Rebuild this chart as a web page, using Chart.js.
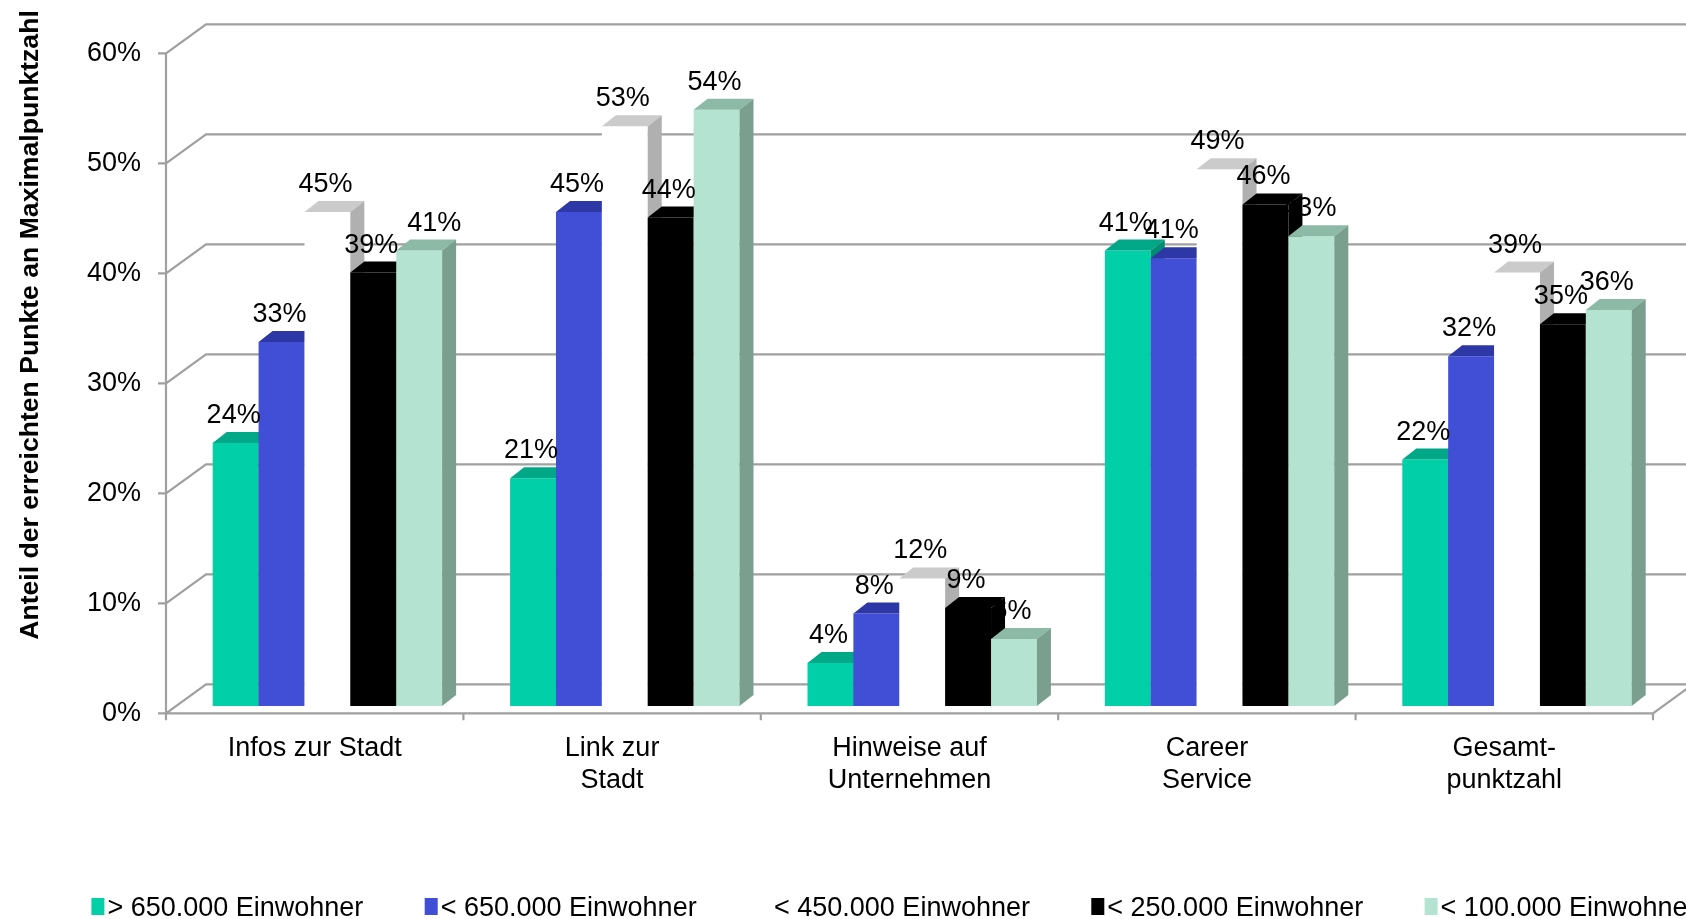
<!DOCTYPE html>
<html>
<head>
<meta charset="utf-8">
<script src="https://cdn.jsdelivr.net/npm/chart.js@4.4.1/dist/chart.umd.min.js"></script>
<style>
  html, body { margin: 0; padding: 0; background: #fff; }
</style>
</head>
<body>
<canvas id="chart" width="1686" height="919"></canvas>
<script>
const categories = [['Infos zur Stadt'], ['Link zur', 'Stadt'], ['Hinweise auf', 'Unternehmen'], ['Career', 'Service'], ['Gesamt-', 'punktzahl']];
const seriesNames = ['> 650.000 Einwohner', '< 650.000 Einwohner', '< 450.000 Einwohner', '< 250.000 Einwohner', '< 100.000 Einwohner'];
const over650k = [23.9, 20.7, 3.9, 41.4, 22.4];
const under650k = [33.1, 44.9, 8.4, 40.7, 31.8];
const under450k = [44.9, 52.7, 11.6, 48.8, 39.4];
const under250k = [39.4, 44.4, 8.9, 45.6, 34.7];
const under100k = [41.4, 54.2, 6.1, 42.7, 36.0];
const yTicks = [0, 10, 20, 30, 40, 50, 60];
const yTitle = 'Anteil der erreichten Punkte an Maximalpunktzahl';

// colours of the three visible faces of each series
const frontColors = ['#00cfa7', '#414fd7', '#ffffff', '#000000', '#b4e3d2'];
const topColors = ['#00a887', '#2e37a6', '#cbcbcb', '#000000', '#8db9a7'];
const sideColors = ['#008c70', '#262e8c', '#b0b0b0', '#000000', '#7b9f8f'];

const FONT = "'Liberation Sans', Arial, sans-serif";
const GRID = '#a0a0a0';
const WALL_DX = 40, WALL_DY = 29;   // depth of the floor / back wall
const BAR_DX = 12.7, BAR_DY = -7.3; // bars sit a bit behind the front plane
const TOP_DX = 14, TOP_DY = 11;     // depth of a single bar

function drawLabels(chart, i) {
    const ctx = chart.ctx;
    const meta = chart.getDatasetMeta(i);
    const data = chart.data.datasets[i].data;
    ctx.save();
    ctx.font = '27px ' + FONT;
    ctx.fillStyle = '#000';
    ctx.textAlign = 'center';
    ctx.textBaseline = 'alphabetic';
    meta.data.forEach((bar, j) => {
        const nudge = (i === 4 && j === 0) ? 17 : 0; // label moved by hand in the original
        ctx.fillText(Math.round(data[j]) + '%', bar.x + BAR_DX - 2 + nudge, bar.y + BAR_DY - 20);
    });
    ctx.restore();
}

function drawFaces(chart, i) {
    const ctx = chart.ctx;
    chart.getDatasetMeta(i).data.forEach(bar => {
        const { x, y, base, width } = bar.getProps(['x', 'y', 'base', 'width'], true);
        const x0 = x - width / 2, x1 = x + width / 2;
        ctx.fillStyle = topColors[i];
        ctx.beginPath();
        ctx.moveTo(x0, y);
        ctx.lineTo(x0 + TOP_DX, y - TOP_DY);
        ctx.lineTo(x1 + TOP_DX, y - TOP_DY);
        ctx.lineTo(x1, y);
        ctx.closePath();
        ctx.fill();
        ctx.fillStyle = sideColors[i];
        ctx.beginPath();
        ctx.moveTo(x1, y);
        ctx.lineTo(x1 + TOP_DX, y - TOP_DY);
        ctx.lineTo(x1 + TOP_DX, base - TOP_DY);
        ctx.lineTo(x1, base);
        ctx.closePath();
        ctx.fill();
    });
}

const bars3d = {
    id: 'bars3d',
    beforeDatasetsDraw(chart) {
        const ctx = chart.ctx;
        const { left, right, bottom, top } = chart.chartArea;
        const y = chart.scales.y;
        ctx.save();
        ctx.strokeStyle = GRID;
        ctx.lineWidth = 2.2;
        ctx.beginPath();
        yTicks.forEach(v => {
            const py = y.getPixelForValue(v);
            ctx.moveTo(left - 8, py);
            ctx.lineTo(left, py);
            ctx.lineTo(left + WALL_DX, py - WALL_DY);
            ctx.lineTo(chart.width + 5, py - WALL_DY);
        });
        // front axis and floor
        ctx.moveTo(left, top);
        ctx.lineTo(left, bottom + 7);
        ctx.moveTo(left, bottom);
        ctx.lineTo(right, bottom);
        ctx.lineTo(right + WALL_DX, bottom - WALL_DY);
        const step = (right - left) / categories.length;
        for (let k = 1; k <= categories.length; k++) {
            ctx.moveTo(left + k * step, bottom);
            ctx.lineTo(left + k * step, bottom + 7);
        }
        ctx.stroke();
        ctx.restore();
    },
    // the built-in pass draws the last series first; skip it and draw left to right
    beforeDatasetDraw() {
        return false;
    },
    afterDatasetsDraw(chart) {
        const ctx = chart.ctx;
        for (let i = 0; i < chart.data.datasets.length; i++) {
            if (i === 3) drawLabels(chart, 4);
            ctx.save();
            ctx.translate(BAR_DX, BAR_DY);
            chart.getDatasetMeta(i).controller.draw();
            drawFaces(chart, i);
            ctx.restore();
        }
    },
    afterDraw(chart) {
        const ctx = chart.ctx;
        for (let i = 0; i < 4; i++) drawLabels(chart, i);

        // legend
        ctx.save();
        ctx.font = '27px ' + FONT;
        ctx.textAlign = 'left';
        ctx.textBaseline = 'alphabetic';
        chart.data.datasets.forEach((ds, i) => {
            const bx = 91.4 + i * 333.3;
            ctx.fillStyle = ds.backgroundColor;
            ctx.fillRect(bx, 898, 13, 17);
            ctx.fillStyle = '#000';
            ctx.fillText(ds.label, bx + 16, 916);
        });
        ctx.restore();

        // y axis title
        ctx.save();
        ctx.translate(37.5, 325);
        ctx.rotate(-Math.PI / 2);
        ctx.font = 'bold 26.6px ' + FONT;
        ctx.fillStyle = '#000';
        ctx.textAlign = 'center';
        ctx.textBaseline = 'alphabetic';
        ctx.fillText(yTitle, 0, 0);
        ctx.restore();
    }
};

const seriesData = [over650k, under650k, under450k, under250k, under100k];

const ctx = document.getElementById('chart').getContext('2d');
const chart = new Chart(ctx, {
    type: 'bar',
    data: {
        labels: categories,
        datasets: seriesData.map((d, i) => ({
            label: seriesNames[i],
            data: d,
            backgroundColor: frontColors[i],
            borderWidth: 0,
            clip: false,
            categoryPercentage: 0.7714,
            barPercentage: 1
        }))
    },
    options: {
        responsive: false,
        animation: false,
        layout: { padding: { top: 53.3, left: 0, right: 33, bottom: 95.7 } },
        plugins: {
            legend: { display: false },
            tooltip: { enabled: false }
        },
        scales: {
            x: {
                grid: { display: false, drawTicks: false },
                border: { display: false },
                ticks: {
                    color: '#000',
                    padding: 19,
                    maxRotation: 0,
                    autoSkip: false,
                    font: { family: FONT, size: 27, lineHeight: 1.19 }
                },
                afterFit: s => { s.height = 110; }
            },
            y: {
                min: 0,
                max: 60,
                grid: { display: false, drawTicks: false },
                border: { display: false },
                ticks: {
                    stepSize: 10,
                    color: '#000',
                    padding: 25,
                    font: { family: FONT, size: 27 },
                    callback: v => v + '%'
                },
                afterFit: s => { s.width = 166; }
            }
        }
    },
    plugins: [bars3d]
});
</script>
</body>
</html>
